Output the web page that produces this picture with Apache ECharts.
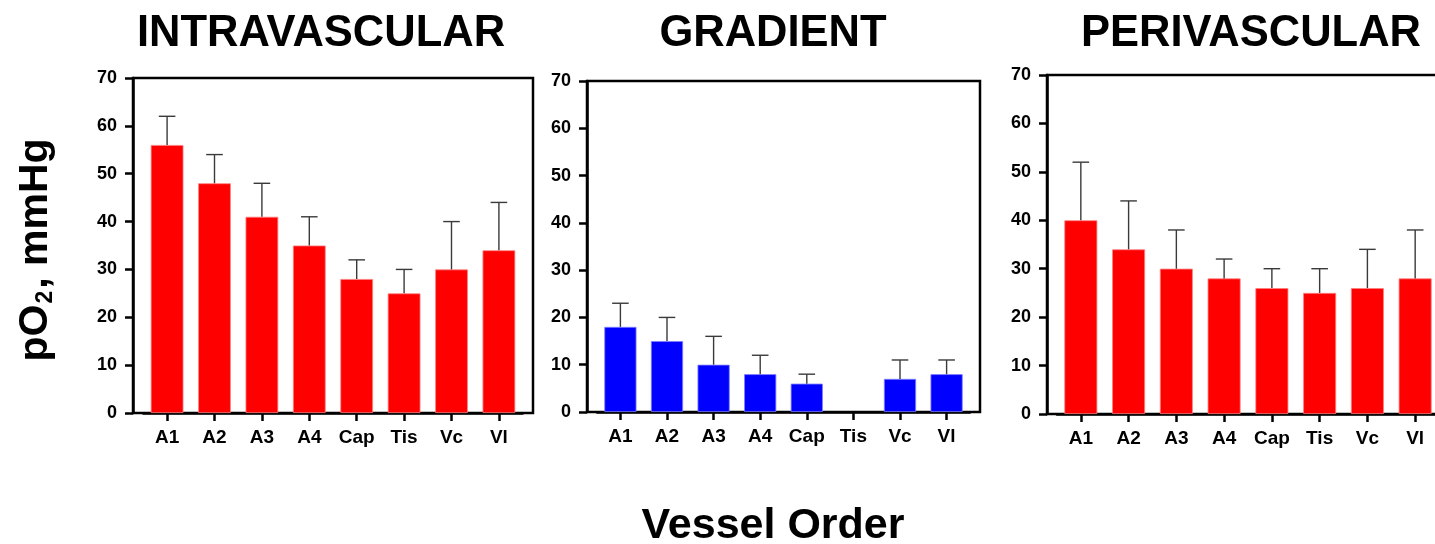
<!DOCTYPE html>
<html>
<head>
<meta charset="utf-8">
<title>pO2 by vessel order</title>
<script src="https://cdn.jsdelivr.net/npm/echarts@6/dist/echarts.min.js"></script>
<style>
  html, body { margin: 0; padding: 0; background: #fff; }
  #chart { width: 1435px; height: 544px; }
</style>
</head>
<body>
<div id="chart"></div>
<script>
// Vessel order categories shared by all three panels
const categories = ['A1', 'A2', 'A3', 'A4', 'Cap', 'Tis', 'Vc', 'Vl'];

// Mean pO2 (mmHg) and the upward error (SD) for each vessel order
const intravascularMean = [56, 48, 41, 35, 28, 25, 30, 34];
const intravascularSD   = [6, 6, 7, 6, 4, 5, 10, 10];

const gradientMean = [18, 15, 10, 8, 6, null, 7, 8];
const gradientSD   = [5, 5, 6, 4, 2, null, 4, 3];

const perivascularMean = [40, 34, 30, 28, 26, 25, 26, 28];
const perivascularSD   = [12, 10, 8, 4, 4, 5, 8, 10];

// Value axis ticks
const yMin = 0, yMax = 70, yStep = 10;

const FONT = '"Liberation Sans", Arial, Helvetica, sans-serif';
const AXIS_W = 2.5;

// Each panel: an outer framed grid (box + y axis) and an inner grid
// holding the category bands, inset from the frame on both sides.
const panels = [
  { title: 'INTRAVASCULAR', mean: intravascularMean, sd: intravascularSD,
    color: '#ff0000', edge: '#ff8080',
    box: { left: 133, top: 78, width: 400, height: 335 }, band: 47.4, titleX: 321 },
  { title: 'GRADIENT', mean: gradientMean, sd: gradientSD,
    color: '#0000ff', edge: '#8080ff',
    box: { left: 587, top: 81, width: 393, height: 331 }, band: 46.6, titleX: 773 },
  { title: 'PERIVASCULAR', mean: perivascularMean, sd: perivascularSD,
    color: '#ff0000', edge: '#ff8080',
    box: { left: 1047, top: 75, width: 402, height: 339 }, band: 47.76, titleX: 1251 }
];

const grid = [], xAxis = [], yAxis = [], series = [], graphic = [];

function errorBarRenderer(params, api) {
  const x = api.value(0);
  const lo = api.coord([x, api.value(1)]);
  const hi = api.coord([x, api.value(2)]);
  const half = 8.3;
  const style = { stroke: '#3a3a3a', lineWidth: 1.4 };
  return {
    type: 'group',
    children: [
      { type: 'line', shape: { x1: lo[0], y1: lo[1], x2: hi[0], y2: hi[1] }, style },
      { type: 'line', shape: { x1: hi[0] - half, y1: hi[1], x2: hi[0] + half, y2: hi[1] }, style }
    ]
  };
}

panels.forEach((p, i) => {
  const outer = 2 * i, inner = 2 * i + 1;
  const n = categories.length;
  const innerWidth = p.band * n;
  const innerLeft = p.box.left + (p.box.width - innerWidth) / 2;
  // Frame (the last one runs past the right edge of the canvas)
  grid.push({
    left: p.box.left, top: p.box.top, width: p.box.width, height: p.box.height,
    show: true, borderColor: '#000', borderWidth: AXIS_W, backgroundColor: 'transparent',
    containLabel: false, outerBoundsMode: 'none'
  });
  // Category bands
  grid.push({
    left: innerLeft, top: p.box.top, width: innerWidth, height: p.box.height,
    containLabel: false, outerBoundsMode: 'none'
  });

  xAxis.push({ gridIndex: outer, type: 'category', data: categories, show: false });
  xAxis.push({
    gridIndex: inner, type: 'category', data: categories,
    axisLine: { show: true, lineStyle: { color: '#000', width: AXIS_W } },
    axisTick: { show: true, interval: 0, alignWithLabel: true, length: 8,
                lineStyle: { color: '#000', width: AXIS_W } },
    axisLabel: { interval: 0, hideOverlap: false, margin: 15, color: '#000',
                 fontSize: 19, fontWeight: 'bold', fontFamily: FONT },
    splitLine: { show: false }
  });

  yAxis.push({
    gridIndex: outer, type: 'value', min: yMin, max: yMax, interval: yStep,
    axisLine: { show: true, lineStyle: { color: '#000', width: AXIS_W } },
    axisTick: { show: true, length: 8, lineStyle: { color: '#000', width: AXIS_W } },
    axisLabel: { margin: 16, color: '#000', fontSize: 18, fontWeight: 'bold', fontFamily: FONT },
    splitLine: { show: false }
  });
  yAxis.push({ gridIndex: inner, type: 'value', min: yMin, max: yMax, interval: yStep, show: false });

  series.push({
    type: 'bar', xAxisIndex: inner, yAxisIndex: inner,
    data: p.mean, barWidth: '69%',
    itemStyle: { color: p.color, borderColor: p.edge, borderWidth: 0.8 },
    silent: true, animation: false, z: 2
  });

  const errData = [];
  p.mean.forEach((m, j) => {
    if (m != null && p.sd[j] != null) errData.push([j, m, m + p.sd[j]]);
  });
  series.push({
    type: 'custom', xAxisIndex: inner, yAxisIndex: inner,
    data: errData, renderItem: errorBarRenderer,
    encode: { x: 0, y: [1, 2] },
    silent: true, animation: false, z: 3
  });

  graphic.push({
    type: 'text', x: p.titleX, y: 34,
    style: { text: p.title, fill: '#000', fontSize: 43.5, fontWeight: 'bold', fontFamily: FONT,
             align: 'center', verticalAlign: 'middle' }
  });
});

// Shared axis titles
graphic.push({
  type: 'text', x: 773, y: 526,
  style: { text: 'Vessel Order', fill: '#000', fontSize: 43, fontWeight: 'bold', fontFamily: FONT,
           align: 'center', verticalAlign: 'middle' }
});
graphic.push({
  type: 'text', x: 36, y: 250, rotation: Math.PI / 2,
  style: {
    text: '{m|pO}{s|2}{m|, mmHg}',
    align: 'center', verticalAlign: 'middle',
    rich: {
      m: { fontSize: 41, fontWeight: 'bold', fontFamily: FONT, fill: '#000' },
      s: { fontSize: 23, fontWeight: 'bold', fontFamily: FONT, fill: '#000', padding: [19, 2, 0, 1] }
    }
  }
});

const chart = echarts.init(document.getElementById('chart'), null, { renderer: 'canvas' });
chart.setOption({
  backgroundColor: '#fff',
  animation: false,
  grid, xAxis, yAxis, series, graphic
});
</script>
</body>
</html>
